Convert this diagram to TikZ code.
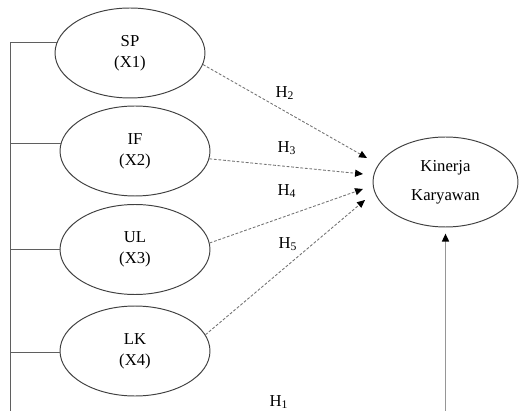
\documentclass[tikz,border=0pt]{standalone}
\usepackage{fontspec}
\setmainfont{Liberation Serif}
\usetikzlibrary{arrows.meta, positioning, shapes.geometric}

\begin{document}
\begin{tikzpicture}[
    x=0.02cm, y=-0.02cm,
    font=\fontsize{9.5}{12}\selectfont,
    var/.style={ellipse, draw=black!75, line width=0.55pt, align=center,
                minimum width=3cm, minimum height=1.8cm, inner sep=0pt},
    tip/.style={-{Triangle[length=4.5pt, width=4pt, black]}},
    hyp/.style={tip, draw=black!55, line width=0.5pt, dash pattern=on 1.6pt off 1pt},
    hlabel/.style={font=\fontsize{9.5}{12}\selectfont},
]

\definecolor{busGray}{RGB}{95,95,95}
\definecolor{mainGray}{RGB}{150,150,150}

\useasboundingbox (0,0) rectangle (519,411);

% ============================================================
% VARIABLES
% ============================================================
\node[var] (sp) at (130, 53)  {SP\\(X1)};
\node[var] (if) at (135, 151) {IF\\(X2)};
\node[var] (ul) at (135, 249.5) {UL\\(X3)};
\node[var] (lk) at (135, 351) {LK\\(X4)};

\node[var, minimum width=2.9cm] (kk) at (445.5, 182)
    {Kinerja\\[4.5pt]Karyawan};

% ============================================================
% SIMULTANEOUS PATH (H1)
% ============================================================
\coordinate (bus) at (10, 412);

\draw[busGray, line width=0.55pt] (bus |- sp.172) -- (bus);
\foreach \v/\a in {sp/172, if/174, ul/180, lk/181} {
    \draw[busGray, line width=0.55pt] (bus |- \v.\a) -- (\v.\a);
}
\draw[tip, mainGray, line width=0.8pt, shorten >=3.5pt]
    (bus) -- (kk.south |- bus) -- (kk.south);

\node[hlabel] (h1) at (279, 402) {H\textsubscript{1}};

% ============================================================
% PARTIAL PATHS (H2--H5)
% ============================================================
\coordinate (t2) at (367, 158);
\coordinate (t3) at (363, 174);
\coordinate (t4) at (363, 189);
\coordinate (t5) at (365, 200);

\draw[hyp] (sp.-9) -- (t2);
\draw[hyp] (if.-6) -- (t3);
\draw[hyp] (ul.5)  -- (t4);
\draw[hyp] (lk.13) -- (t5);

\node[hlabel] (h2) at (285, 93)  {H\textsubscript{2}};
\node[hlabel] (h3) at (287, 148) {H\textsubscript{3}};
\node[hlabel] (h4) at (287, 191) {H\textsubscript{4}};
\node[hlabel] (h5) at (288, 244) {H\textsubscript{5}};

\end{tikzpicture}
\end{document}
